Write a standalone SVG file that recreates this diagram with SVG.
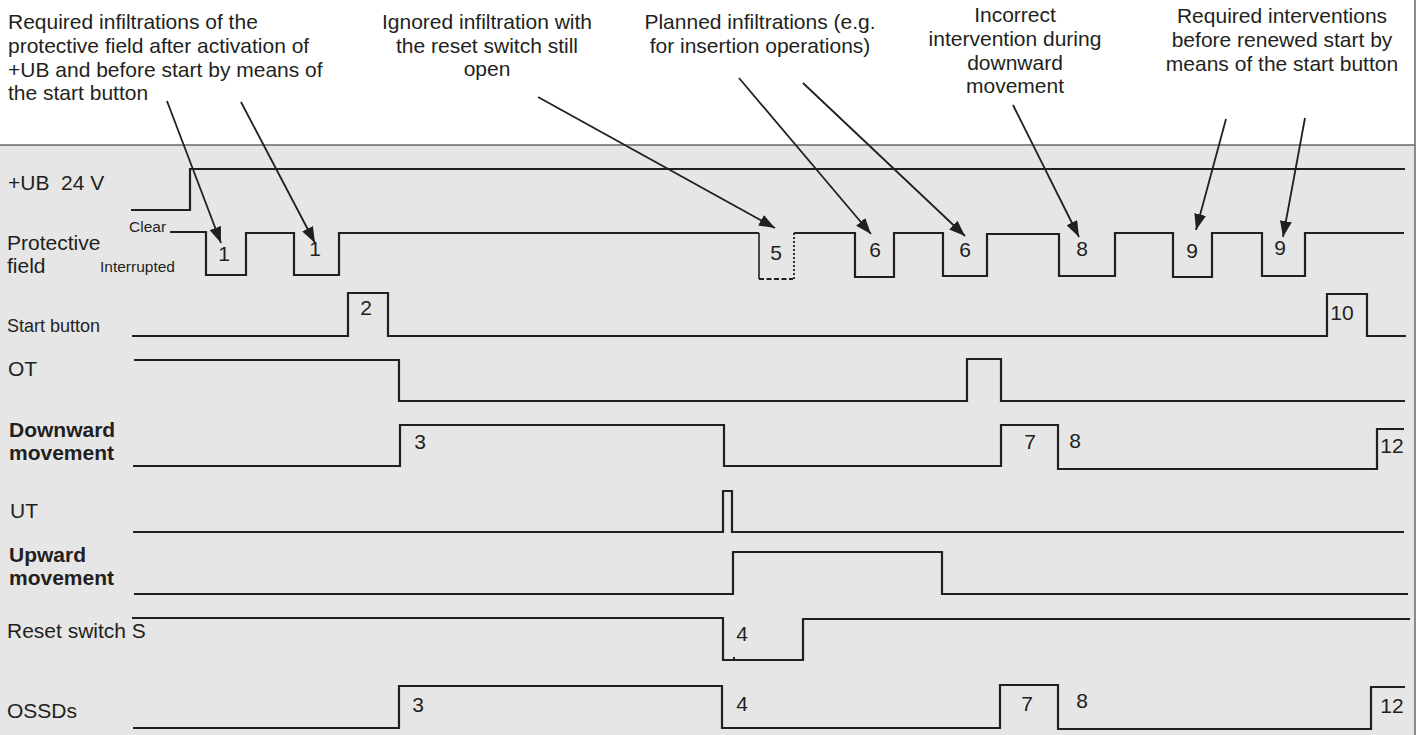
<svg xmlns="http://www.w3.org/2000/svg" width="1418" height="735" viewBox="0 0 1418 735">
<style>
text{font-family:"Liberation Sans",Arial,sans-serif;fill:#231f20}
.lbl{font-size:21px}
.b{font-weight:bold}
.sm{font-size:15.5px}
.num{font-size:21px;text-anchor:middle}
.ann{font-size:21px;text-anchor:middle}
.sig{fill:none;stroke:#231f20;stroke-width:2.2;stroke-linejoin:miter}
.arr{fill:none;stroke:#231f20;stroke-width:1.8}
</style>
<defs>
<marker id="ah" viewBox="0 0 16 12" refX="16" refY="6" markerWidth="16" markerHeight="12" markerUnits="userSpaceOnUse" orient="auto">
<path d="M0,0 L16,6 L0,12 Z" fill="#231f20"/>
</marker>
</defs>
<rect x="0" y="0" width="1418" height="735" fill="#ffffff"/>
<rect x="0" y="145" width="1415" height="590" fill="#e6e6e6"/>
<line x1="0" y1="145" x2="1415" y2="145" stroke="#231f20" stroke-width="1.2"/>
<line x1="1415" y1="0" x2="1415" y2="735" stroke="#666" stroke-width="1.5"/>

<g id="annotations">
<text class="lbl" x="8" y="29">Required infiltrations of the</text>
<text class="lbl" x="8" y="53">protective field after activation of</text>
<text class="lbl" x="8" y="77">+UB and before start by means of</text>
<text class="lbl" x="8" y="100">the start button</text>
<text class="ann" x="487" y="29">Ignored infiltration with</text>
<text class="ann" x="487" y="53">the reset switch still</text>
<text class="ann" x="487" y="76">open</text>
<text class="ann" x="760" y="29">Planned infiltrations (e.g.</text>
<text class="ann" x="760" y="53">for insertion operations)</text>
<text class="ann" x="1015" y="22">Incorrect</text>
<text class="ann" x="1015" y="46">intervention during</text>
<text class="ann" x="1015" y="70">downward</text>
<text class="ann" x="1015" y="93">movement</text>
<text class="ann" x="1282" y="23">Required interventions</text>
<text class="ann" x="1282" y="47">before renewed start by</text>
<text class="ann" x="1282" y="71">means of the start button</text>
</g>

<g id="sig-ub">
<text class="lbl" x="8" y="190" xml:space="preserve">+UB  24 V</text>
<path class="sig" d="M131,210 H190 V169 H1405"/>
</g>

<g id="sig-field">
<text class="lbl" x="7" y="250">Protective</text>
<text class="lbl" x="7" y="273">field</text>
<text class="sm" x="129" y="232">Clear</text>
<text class="sm" x="100" y="272">Interrupted</text>
<path class="sig" d="M170,232 H206 V275 H246 V233 H294 V275 H339 V233 H759"/>
<path class="sig" d="M794,233 H855 V277 H894 V233 H943 V276 H987 V234 H1059 V276 H1115 V233 H1173 V277 H1212 V233 H1262 V276 H1305 V233 H1404"/>
<path d="M759,233 V279" fill="none" stroke="#231f20" stroke-width="1.6"/>
<path d="M759,279 H793" fill="none" stroke="#231f20" stroke-width="1.8" stroke-dasharray="5,2.5"/>
<path d="M794,279 V233" fill="none" stroke="#231f20" stroke-width="1.8" stroke-dasharray="2,2"/>
<text class="num" x="224" y="261">1</text>
<text class="num" x="315" y="256">1</text>
<text class="num" x="776" y="260">5</text>
<text class="num" x="875" y="257">6</text>
<text class="num" x="965" y="257">6</text>
<text class="num" x="1082" y="256">8</text>
<text class="num" x="1192" y="258">9</text>
<text class="num" x="1280" y="255">9</text>
</g>

<g id="sig-start">
<text x="7" y="332" style="font-size:18px">Start button</text>
<path class="sig" d="M132,336 H348 V293 H388 V336 H1327 V294 H1367 V336 H1406"/>
<text class="num" x="366" y="315">2</text>
<text class="num" x="1342" y="320">10</text>
</g>

<g id="sig-ot">
<text class="lbl" x="8" y="376">OT</text>
<path class="sig" d="M134,360 H399 V401 H967 V359 H1001 V401 H1405"/>
</g>

<g id="sig-down">
<text class="lbl b" x="9" y="437">Downward</text>
<text class="lbl b" x="9" y="460">movement</text>
<path class="sig" d="M133,466 H400 V425 H724 V466 H1001 V425 H1058 V469 H1377 V429 H1404"/>
<text class="num" x="420" y="449">3</text>
<text class="num" x="1030" y="449">7</text>
<text class="num" x="1075" y="448">8</text>
<text class="num" x="1392" y="453">12</text>
</g>

<g id="sig-ut">
<text class="lbl" x="10" y="518">UT</text>
<path class="sig" d="M133,532 H723 V491 H732 V532 H1404"/>
</g>

<g id="sig-up">
<text class="lbl b" x="9" y="562">Upward</text>
<text class="lbl b" x="9" y="585">movement</text>
<path class="sig" d="M134,594 H733 V552 H942 V594 H1408"/>
</g>

<g id="sig-reset">
<text class="lbl" x="7" y="638">Reset switch S</text>
<path class="sig" d="M132,618 H723 V660 H803 V619 H1410"/>
<rect x="733" y="657" width="2" height="2" fill="#231f20"/>
<text class="num" x="742" y="641">4</text>
</g>

<g id="sig-ossd">
<text class="lbl" x="7" y="718">OSSDs</text>
<path class="sig" d="M133,728 H399 V686 H722 V728 H1000 V685 H1058 V729 H1371 V687 H1405"/>
<text class="num" x="418" y="712">3</text>
<text class="num" x="742" y="711">4</text>
<text class="num" x="1027" y="711">7</text>
<text class="num" x="1082" y="708">8</text>
<text class="num" x="1392" y="713">12</text>
</g>

<g id="connectors">
<line class="arr" x1="167" y1="101" x2="221" y2="243" marker-end="url(#ah)"/>
<line class="arr" x1="241" y1="102" x2="315" y2="243" marker-end="url(#ah)"/>
<line class="arr" x1="538" y1="97" x2="775" y2="228" marker-end="url(#ah)"/>
<line class="arr" x1="739" y1="78" x2="871" y2="234" marker-end="url(#ah)"/>
<line class="arr" x1="803" y1="83" x2="965" y2="236" marker-end="url(#ah)"/>
<line class="arr" x1="1013" y1="105" x2="1079" y2="237" marker-end="url(#ah)"/>
<line class="arr" x1="1226" y1="119" x2="1196" y2="230" marker-end="url(#ah)"/>
<line class="arr" x1="1305" y1="118" x2="1283" y2="237" marker-end="url(#ah)"/>
</g>
</svg>
